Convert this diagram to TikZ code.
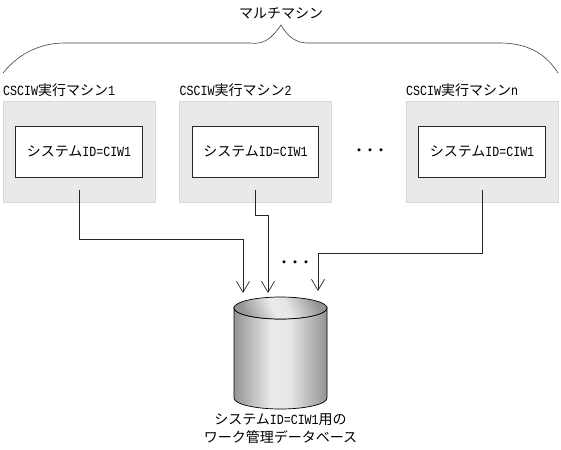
\documentclass[tikz,border=0pt]{standalone}
\usepackage{fontspec}
\setmainfont{Liberation Mono}[FakeStretch=0.83]
\newfontfamily\cjk{Noto Sans CJK JP}
\usepackage{xcolor}
\usetikzlibrary{arrows.meta}
\definecolor{boxgray}{HTML}{E9E9E9}
\definecolor{boxedge}{HTML}{D9D9D9}
\pgfdeclarehorizontalshading{cylshade}{100bp}{
  color(0bp)=(black!42); color(25bp)=(black!42); color(45bp)=(black!8);
  color(55bp)=(black!10); color(75bp)=(black!42); color(100bp)=(black!42)}
\newcommand{\sysid}{{\cjk システム}ID=CIW1}
\tikzset{
  machine/.style={draw=boxedge,fill=boxgray,minimum width=152pt,minimum height=101pt,inner sep=0pt},
  sysbox/.style={draw=black!85,fill=white,line width=0.8pt,minimum width=126.5pt,minimum height=51pt,inner sep=0pt},
  txt/.style={font=\fontsize{14pt}{18pt}\selectfont,inner sep=0pt},
  wire/.style={black!85,line width=0.8pt,-{Straight Barb[length=11pt,width=13pt,line width=0.7pt]}},
}

\begin{document}
\begin{tikzpicture}[x=1pt,y=-1pt]
  \useasboundingbox (0,0) rectangle (561,449);
  \fill[white] (0,0) rectangle (561,449);
  \node[txt] (multi) at (281,13) {\cjk マルチマシン};
  \draw[black!75,line width=0.6pt] (3,73) .. controls (20,52) and (42,43) .. (65,43)
    -- (250,43) .. controls (264,45) and (272,38) .. (281,25)
    .. controls (287,36) and (296,43) .. (307,43)
    -- (500,43) .. controls (525,43) and (545,52) .. (558,73);
  \foreach \x/\idx/\lab in {79/1/1,255.5/2/2,482/3/n}{
    \node[machine] (m\idx) at (\x,151.5) {};
    \node[txt,anchor=west] (lab\idx) at (\x-76,90.5) {CSCIW{\cjk 実行マシン}\lab};
    \node[sysbox,txt] (sys\idx) at (\x,151.5) {\sysid};
    \coordinate (out\idx) at (\x,190);
  }
  \node[txt,font=\fontsize{11pt}{14pt}\selectfont\bfseries\cjk] (dots1) at (370,152) {・・・};
  \node[txt,font=\fontsize{11pt}{14pt}\selectfont\bfseries\cjk] (dots2) at (295,264) {・・・};
  \coordinate (in1) at (243,293);
  \coordinate (in2) at (268,293);
  \coordinate (in3) at (318,291);
  \draw[wire] (out1) |- (in1 |- 0,239.5) -- (in1);
  \draw[wire] (out2) |- (in2 |- 0,215) -- (in2);
  \draw[wire] (out3) |- (in3 |- 0,253) -- (in3);
  \shade[shading=cylshade,draw=black,line width=0.7pt]
    (234,308) -- (234,398) arc[start angle=180,end angle=360,x radius=46.5,y radius=-11]
    -- (327,308) arc[start angle=360,end angle=180,x radius=46.5,y radius=-11] -- cycle;
  \shade[shading=cylshade,shading angle=25,draw=black,line width=0.7pt]
    (280.5,308) ellipse[x radius=46.5,y radius=11];
  \node[txt,align=center] (dbname) at (280.5,429) {\sysid{\cjk 用の}\\[0pt]{\cjk ワーク管理データベース}};
\end{tikzpicture}
\end{document}
